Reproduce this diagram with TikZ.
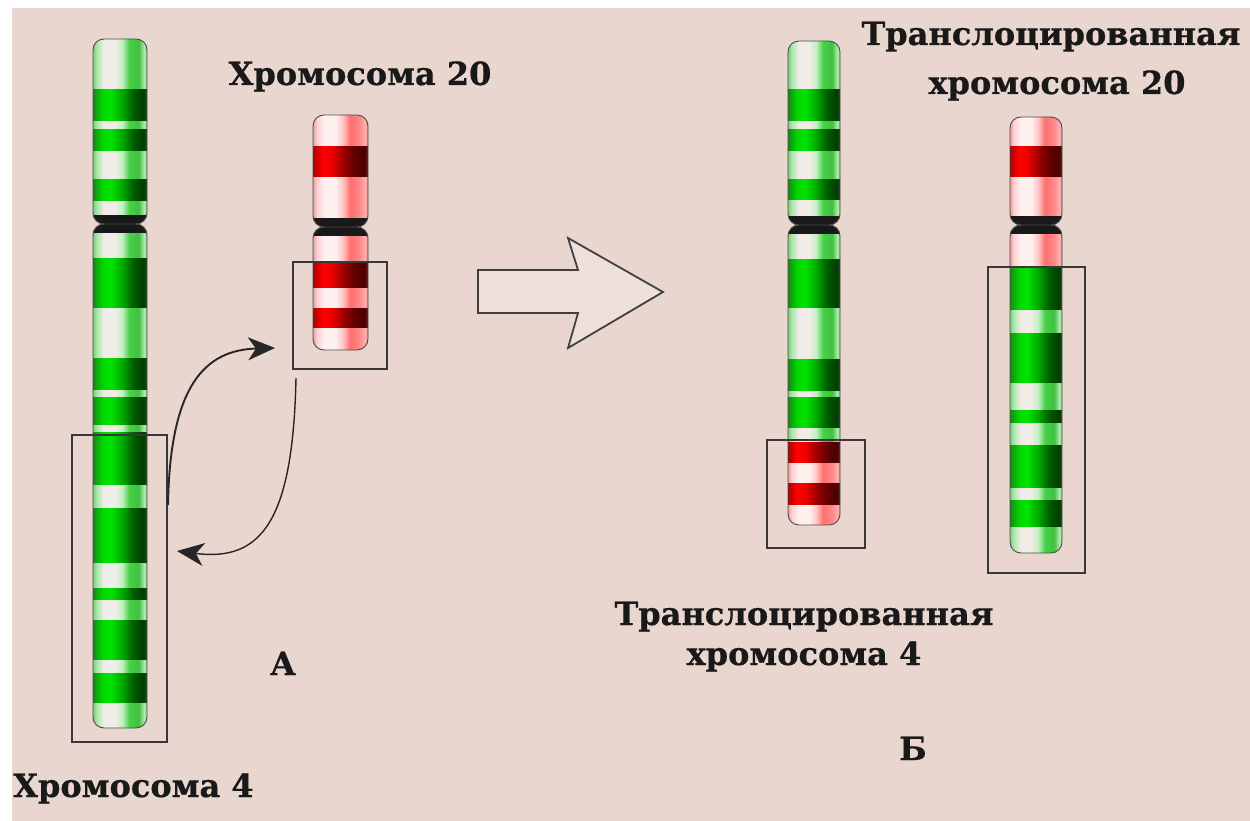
\documentclass[tikz,border=0pt]{standalone}
\usepackage{fontspec}
\setmainfont{DejaVu Serif}
\newfontfamily\lblfont{DejaVu Serif Bold}[FakeBold=0.6]
\usetikzlibrary{arrows.meta}

% background and line colours
\definecolor{bg}{HTML}{E9D7CF}
\definecolor{frame}{HTML}{383838}

% dark green band, left to right
\definecolor{gd0}{HTML}{1E6A1E}\definecolor{gd1}{HTML}{10A010}
\definecolor{gd2}{HTML}{00D800}\definecolor{gd3}{HTML}{00E400}
\definecolor{gd4}{HTML}{00A800}\definecolor{gd5}{HTML}{005A00}
\definecolor{gd6}{HTML}{003C00}\definecolor{gd7}{HTML}{1E561E}
% light green band
\definecolor{gl0}{HTML}{6AB86A}\definecolor{gl1}{HTML}{A8E8A8}
\definecolor{gl2}{HTML}{F0ECE8}\definecolor{gl3}{HTML}{C0F0C0}
\definecolor{gl4}{HTML}{48D048}\definecolor{gl5}{HTML}{40C040}
\definecolor{gl6}{HTML}{B0EEB0}\definecolor{gl7}{HTML}{5AA05A}
% dark red band
\definecolor{rd0}{HTML}{701414}\definecolor{rd1}{HTML}{C80000}
\definecolor{rd2}{HTML}{FF0000}\definecolor{rd3}{HTML}{F00000}
\definecolor{rd4}{HTML}{A00000}\definecolor{rd5}{HTML}{600000}
\definecolor{rd6}{HTML}{4C0000}\definecolor{rd7}{HTML}{6A2020}
% light red band
\definecolor{rl0}{HTML}{D88080}\definecolor{rl1}{HTML}{FFD0D0}
\definecolor{rl2}{HTML}{FFF0F0}\definecolor{rl3}{HTML}{FFC4C4}
\definecolor{rl4}{HTML}{FF7070}\definecolor{rl5}{HTML}{FF8888}
\definecolor{rl6}{HTML}{FFB0B0}\definecolor{rl7}{HTML}{B86060}

\pgfdeclarehorizontalshading{gdark}{100bp}{color(0bp)=(gd0); color(25bp)=(gd0);
  color(29bp)=(gd1); color(35bp)=(gd2); color(42bp)=(gd3); color(52bp)=(gd4);
  color(62bp)=(gd5); color(70bp)=(gd6); color(75bp)=(gd7); color(100bp)=(gd7)}
\pgfdeclarehorizontalshading{glight}{100bp}{color(0bp)=(gl0); color(25bp)=(gl0);
  color(30bp)=(gl1); color(36bp)=(gl2); color(46bp)=(gl2); color(52bp)=(gl3);
  color(58bp)=(gl4); color(66bp)=(gl5); color(71bp)=(gl6); color(75bp)=(gl7); color(100bp)=(gl7)}
\pgfdeclarehorizontalshading{rdark}{100bp}{color(0bp)=(rd0); color(25bp)=(rd0);
  color(29bp)=(rd1); color(35bp)=(rd2); color(42bp)=(rd3); color(52bp)=(rd4);
  color(62bp)=(rd5); color(70bp)=(rd6); color(75bp)=(rd7); color(100bp)=(rd7)}
\pgfdeclarehorizontalshading{rlight}{100bp}{color(0bp)=(rl0); color(25bp)=(rl0);
  color(30bp)=(rl1); color(36bp)=(rl2); color(46bp)=(rl2); color(52bp)=(rl3);
  color(58bp)=(rl4); color(66bp)=(rl5); color(71bp)=(rl6); color(75bp)=(rl7); color(100bp)=(rl7)}

% current chromosome: left, right, top, bottom, centromere
\newcommand\chromset[5]{\def\chL{#1}\def\chR{#2}\def\chT{#3}\def\chB{#4}\def\chC{#5}}
\newcommand\chromshape{(\chL,\chT) rectangle (\chR,\chC) (\chL,\chC) rectangle (\chR,\chB)}
\newcommand\band[3]{\shade[shading=#1] (\chL-2,#2) rectangle (\chR+2,#3);}
\newcommand\centro{\fill[black!90] (\chL-2,\chC-9) rectangle (\chR+2,\chC+9);}
\newcommand\outline{\draw[black!70, line width=0.9pt, rounded corners=11pt] \chromshape;}

\tikzset{
  lbl/.style={font=\fontsize{32}{36}\selectfont\lblfont, inner sep=0pt, text=black!90},
  selbox/.style={draw=frame, line width=1.8pt, inner sep=0pt},
  swap/.style={line width=1.9pt, draw=black!85,
    -{Stealth[length=27pt, width=23pt, inset=8pt]}},
  bigarrow/.style={draw=black!75, line width=1.8pt, fill=bg!80!white, line join=miter},
}

\begin{document}
\begin{tikzpicture}[x=1pt, y=-1pt]
\useasboundingbox (0,0) rectangle (1250,821);
\fill[white] (0,0) rectangle (1250,821);
\fill[bg] (12,8) rectangle (1250,821);

% ---- chromosome 4 ----
\chromset{93}{147}{39}{728}{224}
\begin{scope}
\clip[rounded corners=11pt] \chromshape;
\band{glight}{39}{90}\band{gdark}{90}{122}\band{glight}{122}{130}
\band{gdark}{130}{152}\band{glight}{152}{180}\band{gdark}{180}{202}
\band{glight}{202}{224}\band{glight}{224}{258}\band{gdark}{258}{308}
\band{glight}{308}{358}\band{gdark}{358}{390}\band{glight}{390}{397}
\band{gdark}{397}{425}\band{glight}{425}{432}\band{gdark}{432}{485}
\band{glight}{485}{508}\band{gdark}{508}{563}\band{glight}{563}{588}
\band{gdark}{588}{600}\band{glight}{600}{620}\band{gdark}{620}{660}
\band{glight}{660}{673}\band{gdark}{673}{703}\band{glight}{703}{728}
\centro
\end{scope}
\outline

% ---- chromosome 20 ----
\chromset{313}{368}{115}{350}{227}
\begin{scope}
\clip[rounded corners=11pt] \chromshape;
\band{rlight}{115}{147}\band{rdark}{147}{178}\band{rlight}{178}{227}
\band{rlight}{227}{263}\band{rdark}{263}{288}\band{rlight}{288}{308}
\band{rdark}{308}{328}\band{rlight}{328}{350}
\centro
\end{scope}
\outline

% ---- translocated chromosome 4 ----
\chromset{788}{840}{41}{525}{225}
\begin{scope}
\clip[rounded corners=11pt] \chromshape;
\band{glight}{41}{90}\band{gdark}{90}{122}\band{glight}{122}{130}
\band{gdark}{130}{152}\band{glight}{152}{180}\band{gdark}{180}{201}
\band{glight}{201}{225}\band{glight}{225}{259}\band{gdark}{259}{308}
\band{glight}{308}{359}\band{gdark}{359}{391}\band{glight}{391}{397}
\band{gdark}{397}{428}\band{glight}{428}{442}
\band{rdark}{442}{463}\band{rlight}{463}{483}\band{rdark}{483}{505}
\band{rlight}{505}{525}
\centro
\end{scope}
\outline

% ---- translocated chromosome 20 ----
\chromset{1010}{1062}{117}{553}{225}
\begin{scope}
\clip[rounded corners=11pt] \chromshape;
\band{rlight}{117}{147}\band{rdark}{147}{178}\band{rlight}{178}{225}
\band{rlight}{225}{267}
\band{gdark}{267}{310}\band{glight}{310}{333}\band{gdark}{333}{383}
\band{glight}{383}{410}\band{gdark}{410}{423}\band{glight}{423}{445}
\band{gdark}{445}{488}\band{glight}{488}{500}\band{gdark}{500}{527}
\band{glight}{527}{553}
\centro
\end{scope}
\outline

% ---- frames around the exchanged segments ----
\node[selbox, minimum width=95pt, minimum height=307pt] (box4) at (119.5,588.5) {};
\node[selbox, minimum width=94pt, minimum height=107pt] (box20) at (340,315.5) {};
\node[selbox, minimum width=98pt, minimum height=108pt] (box4t) at (816,494) {};
\node[selbox, minimum width=97pt, minimum height=306pt] (box20t) at (1036.5,420) {};

% ---- exchange arrows ----
\coordinate (s1) at (168,505);
\coordinate (e1) at (275,348);
\coordinate (s2) at (296,378);
\coordinate (e2) at (177,551);
\draw[swap] (s1) .. controls (170,385) and (205,350) .. (e1);
\draw[swap, line width=1.4pt] (s2) .. controls (293,520) and (262,562) .. (e2);

% ---- hollow arrow ----
\draw[bigarrow] (478,270) -- (578,270) -- (568,238) -- (663,292) -- (568,348)
  -- (578,313) -- (478,313) -- cycle;

% ---- labels ----
\node[lbl, anchor=base] (t20) at (360,85) {Хромосома 20};
\node[lbl, anchor=base west] (t4) at (13,797) {Хромосома 4};
\node[lbl, anchor=base] (t20ta) at (1051,45) {Транслоцированная};
\node[lbl, anchor=base] (t20tb) at (1057,94) {хромосома 20};
\node[lbl, anchor=base] (t4ta) at (804,625) {Транслоцированная};
\node[lbl, anchor=base] (t4tb) at (804,665) {хромосома 4};
\node[lbl, anchor=base] (la) at (283,675) {А};
\node[lbl, anchor=base] (lb) at (913,760) {Б};
\end{tikzpicture}
\end{document}
